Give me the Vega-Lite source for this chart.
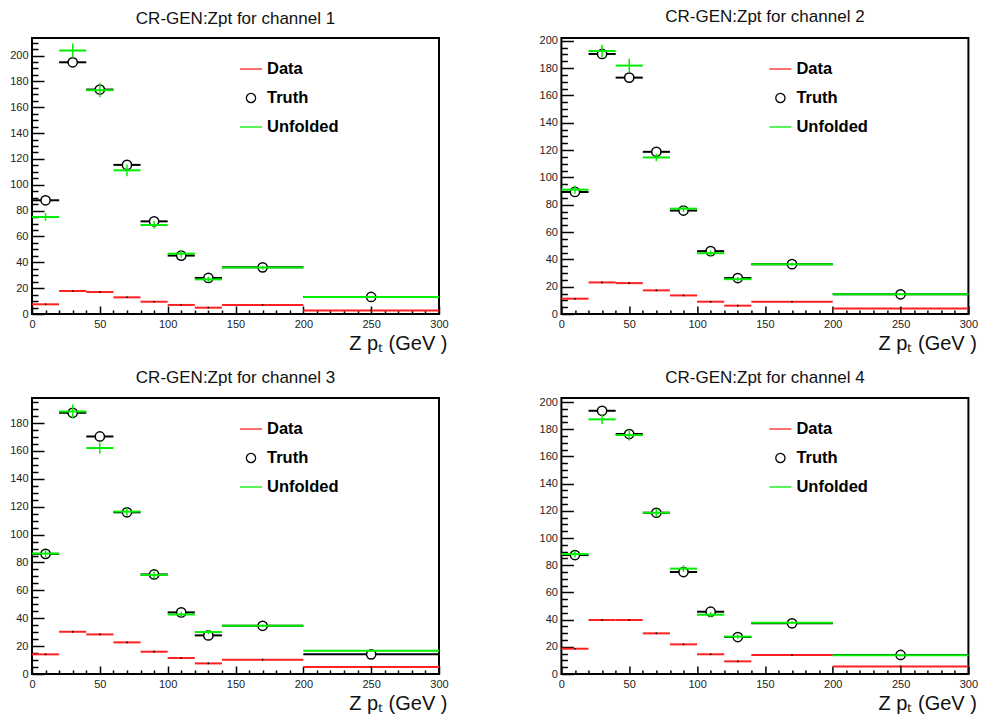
{
  "$schema": "https://vega.github.io/schema/vega-lite/v6.json",
  "padding": {"left": 8, "top": 6, "right": 0, "bottom": 0},
  "background": "white",
  "config": {
    "view": {"stroke": "black", "strokeWidth": 2},
    "font": "Liberation Sans",
    "legend": {"orient": "none", "legendX": 207, "legendY": 19, "title": null, "padding": 0, "labelFont": "Liberation Sans", "labelFontSize": 16.5, "labelFontWeight": "bold", "labelColor": "black", "symbolSize": 484, "symbolStrokeWidth": 1.3, "rowPadding": 8, "labelOffset": 4},
    "axisX": {"labelExpr": "datum.value % 50 === 0 ? datum.label : ''", "tickColor": "black", "tickWidth": 1.5, "domain": false, "grid": false, "labelFontSize": 11, "labelColor": "#222", "labelPadding": 12, "labelFlush": false, "labelOverlap": false, "titleFontSize": 20, "titleFontWeight": "normal", "titleColor": "#111", "titleAnchor": "end", "titleAlign": "right", "titleBaseline": "alphabetic", "titleX": 415, "titleY": 35},
    "axisY": {"labelExpr": "datum.value % 20 === 0 ? datum.label : ''", "tickColor": "black", "tickWidth": 1.5, "domain": false, "grid": false, "labelFontSize": 11, "labelColor": "#222", "labelPadding": 16, "labelOverlap": false},
    "title": {"fontSize": 17, "fontWeight": "normal", "font": "Liberation Sans", "color": "#111", "anchor": "middle", "frame": "group", "baseline": "alphabetic", "offset": 9}
  },
  "data": {"values": [
    {"ch":1,"s":"Data","lo":0,"hi":20,"x":10,"y":7.5,"e":0.6},
    {"ch":1,"s":"Data","lo":20,"hi":40,"x":30,"y":17.8,"e":0.6},
    {"ch":1,"s":"Data","lo":40,"hi":60,"x":50,"y":17.0,"e":0.6},
    {"ch":1,"s":"Data","lo":60,"hi":80,"x":70,"y":12.9,"e":0.6},
    {"ch":1,"s":"Data","lo":80,"hi":100,"x":90,"y":9.5,"e":0.6},
    {"ch":1,"s":"Data","lo":100,"hi":120,"x":110,"y":7.0,"e":0.6},
    {"ch":1,"s":"Data","lo":120,"hi":140,"x":130,"y":4.9,"e":0.6},
    {"ch":1,"s":"Data","lo":140,"hi":200,"x":170,"y":7.0,"e":0.6},
    {"ch":1,"s":"Data","lo":200,"hi":300,"x":250,"y":2.8,"e":0.6},
    {"ch":1,"s":"Truth","lo":0,"hi":20,"x":10,"y":88.0,"e":0},
    {"ch":1,"s":"Truth","lo":20,"hi":40,"x":30,"y":194.8,"e":0},
    {"ch":1,"s":"Truth","lo":40,"hi":60,"x":50,"y":173.7,"e":0},
    {"ch":1,"s":"Truth","lo":60,"hi":80,"x":70,"y":115.4,"e":0},
    {"ch":1,"s":"Truth","lo":80,"hi":100,"x":90,"y":71.7,"e":0},
    {"ch":1,"s":"Truth","lo":100,"hi":120,"x":110,"y":45.2,"e":0},
    {"ch":1,"s":"Truth","lo":120,"hi":140,"x":130,"y":27.9,"e":0},
    {"ch":1,"s":"Truth","lo":140,"hi":200,"x":170,"y":36.1,"e":0},
    {"ch":1,"s":"Truth","lo":200,"hi":300,"x":250,"y":13.2,"e":0},
    {"ch":1,"s":"Unfolded","lo":0,"hi":20,"x":10,"y":75.1,"e":3},
    {"ch":1,"s":"Unfolded","lo":20,"hi":40,"x":30,"y":203.9,"e":5.5},
    {"ch":1,"s":"Unfolded","lo":40,"hi":60,"x":50,"y":173.2,"e":5.5},
    {"ch":1,"s":"Unfolded","lo":60,"hi":80,"x":70,"y":111.2,"e":4.5},
    {"ch":1,"s":"Unfolded","lo":80,"hi":100,"x":90,"y":68.9,"e":3},
    {"ch":1,"s":"Unfolded","lo":100,"hi":120,"x":110,"y":46.7,"e":3},
    {"ch":1,"s":"Unfolded","lo":120,"hi":140,"x":130,"y":26.8,"e":2},
    {"ch":1,"s":"Unfolded","lo":140,"hi":200,"x":170,"y":35.9,"e":1.5},
    {"ch":1,"s":"Unfolded","lo":200,"hi":300,"x":250,"y":13.2,"e":0.8},
    {"ch":2,"s":"Data","lo":0,"hi":20,"x":10,"y":11.2,"e":0.6},
    {"ch":2,"s":"Data","lo":20,"hi":40,"x":30,"y":23.1,"e":0.6},
    {"ch":2,"s":"Data","lo":40,"hi":60,"x":50,"y":22.6,"e":0.6},
    {"ch":2,"s":"Data","lo":60,"hi":80,"x":70,"y":17.3,"e":0.6},
    {"ch":2,"s":"Data","lo":80,"hi":100,"x":90,"y":13.6,"e":0.6},
    {"ch":2,"s":"Data","lo":100,"hi":120,"x":110,"y":9.0,"e":0.6},
    {"ch":2,"s":"Data","lo":120,"hi":140,"x":130,"y":6.1,"e":0.6},
    {"ch":2,"s":"Data","lo":140,"hi":200,"x":170,"y":9.0,"e":0.6},
    {"ch":2,"s":"Data","lo":200,"hi":300,"x":250,"y":4.1,"e":0.6},
    {"ch":2,"s":"Truth","lo":0,"hi":20,"x":10,"y":89.3,"e":0},
    {"ch":2,"s":"Truth","lo":20,"hi":40,"x":30,"y":190.3,"e":0},
    {"ch":2,"s":"Truth","lo":40,"hi":60,"x":50,"y":173.0,"e":0},
    {"ch":2,"s":"Truth","lo":60,"hi":80,"x":70,"y":118.7,"e":0},
    {"ch":2,"s":"Truth","lo":80,"hi":100,"x":90,"y":75.7,"e":0},
    {"ch":2,"s":"Truth","lo":100,"hi":120,"x":110,"y":46.0,"e":0},
    {"ch":2,"s":"Truth","lo":120,"hi":140,"x":130,"y":26.3,"e":0},
    {"ch":2,"s":"Truth","lo":140,"hi":200,"x":170,"y":36.5,"e":0},
    {"ch":2,"s":"Truth","lo":200,"hi":300,"x":250,"y":14.4,"e":0},
    {"ch":2,"s":"Unfolded","lo":0,"hi":20,"x":10,"y":91.0,"e":3},
    {"ch":2,"s":"Unfolded","lo":20,"hi":40,"x":30,"y":192.5,"e":4.5},
    {"ch":2,"s":"Unfolded","lo":40,"hi":60,"x":50,"y":181.8,"e":5},
    {"ch":2,"s":"Unfolded","lo":60,"hi":80,"x":70,"y":114.6,"e":2.7},
    {"ch":2,"s":"Unfolded","lo":80,"hi":100,"x":90,"y":77.1,"e":2.5},
    {"ch":2,"s":"Unfolded","lo":100,"hi":120,"x":110,"y":44.5,"e":2},
    {"ch":2,"s":"Unfolded","lo":120,"hi":140,"x":130,"y":25.5,"e":1.5},
    {"ch":2,"s":"Unfolded","lo":140,"hi":200,"x":170,"y":36.5,"e":1.2},
    {"ch":2,"s":"Unfolded","lo":200,"hi":300,"x":250,"y":14.4,"e":0.7},
    {"ch":3,"s":"Data","lo":0,"hi":20,"x":10,"y":14.1,"e":0.6},
    {"ch":3,"s":"Data","lo":20,"hi":40,"x":30,"y":30.3,"e":0.6},
    {"ch":3,"s":"Data","lo":40,"hi":60,"x":50,"y":28.4,"e":0.6},
    {"ch":3,"s":"Data","lo":60,"hi":80,"x":70,"y":22.7,"e":0.6},
    {"ch":3,"s":"Data","lo":80,"hi":100,"x":90,"y":16.0,"e":0.6},
    {"ch":3,"s":"Data","lo":100,"hi":120,"x":110,"y":11.5,"e":0.6},
    {"ch":3,"s":"Data","lo":120,"hi":140,"x":130,"y":7.6,"e":0.6},
    {"ch":3,"s":"Data","lo":140,"hi":200,"x":170,"y":10.3,"e":0.6},
    {"ch":3,"s":"Data","lo":200,"hi":300,"x":250,"y":5.0,"e":0.6},
    {"ch":3,"s":"Truth","lo":0,"hi":20,"x":10,"y":86.2,"e":0},
    {"ch":3,"s":"Truth","lo":20,"hi":40,"x":30,"y":187.4,"e":0},
    {"ch":3,"s":"Truth","lo":40,"hi":60,"x":50,"y":170.4,"e":0},
    {"ch":3,"s":"Truth","lo":60,"hi":80,"x":70,"y":116.0,"e":0},
    {"ch":3,"s":"Truth","lo":80,"hi":100,"x":90,"y":71.4,"e":0},
    {"ch":3,"s":"Truth","lo":100,"hi":120,"x":110,"y":44.2,"e":0},
    {"ch":3,"s":"Truth","lo":120,"hi":140,"x":130,"y":27.7,"e":0},
    {"ch":3,"s":"Truth","lo":140,"hi":200,"x":170,"y":34.6,"e":0},
    {"ch":3,"s":"Truth","lo":200,"hi":300,"x":250,"y":14.1,"e":0},
    {"ch":3,"s":"Unfolded","lo":0,"hi":20,"x":10,"y":86.4,"e":2.5},
    {"ch":3,"s":"Unfolded","lo":20,"hi":40,"x":30,"y":188.3,"e":5},
    {"ch":3,"s":"Unfolded","lo":40,"hi":60,"x":50,"y":162.1,"e":4},
    {"ch":3,"s":"Unfolded","lo":60,"hi":80,"x":70,"y":116.5,"e":3},
    {"ch":3,"s":"Unfolded","lo":80,"hi":100,"x":90,"y":71.1,"e":2.5},
    {"ch":3,"s":"Unfolded","lo":100,"hi":120,"x":110,"y":42.7,"e":2},
    {"ch":3,"s":"Unfolded","lo":120,"hi":140,"x":130,"y":30.1,"e":1.5},
    {"ch":3,"s":"Unfolded","lo":140,"hi":200,"x":170,"y":34.6,"e":1},
    {"ch":3,"s":"Unfolded","lo":200,"hi":300,"x":250,"y":16.7,"e":0.8},
    {"ch":4,"s":"Data","lo":0,"hi":20,"x":10,"y":18.6,"e":0.6},
    {"ch":4,"s":"Data","lo":20,"hi":40,"x":30,"y":39.7,"e":0.6},
    {"ch":4,"s":"Data","lo":40,"hi":60,"x":50,"y":39.7,"e":0.6},
    {"ch":4,"s":"Data","lo":60,"hi":80,"x":70,"y":29.9,"e":0.6},
    {"ch":4,"s":"Data","lo":80,"hi":100,"x":90,"y":21.8,"e":0.6},
    {"ch":4,"s":"Data","lo":100,"hi":120,"x":110,"y":14.5,"e":0.6},
    {"ch":4,"s":"Data","lo":120,"hi":140,"x":130,"y":9.3,"e":0.6},
    {"ch":4,"s":"Data","lo":140,"hi":200,"x":170,"y":14.0,"e":0.6},
    {"ch":4,"s":"Data","lo":200,"hi":300,"x":250,"y":5.6,"e":0.6},
    {"ch":4,"s":"Truth","lo":0,"hi":20,"x":10,"y":87.5,"e":0},
    {"ch":4,"s":"Truth","lo":20,"hi":40,"x":30,"y":193.6,"e":0},
    {"ch":4,"s":"Truth","lo":40,"hi":60,"x":50,"y":176.5,"e":0},
    {"ch":4,"s":"Truth","lo":60,"hi":80,"x":70,"y":118.6,"e":0},
    {"ch":4,"s":"Truth","lo":80,"hi":100,"x":90,"y":75.0,"e":0},
    {"ch":4,"s":"Truth","lo":100,"hi":120,"x":110,"y":45.8,"e":0},
    {"ch":4,"s":"Truth","lo":120,"hi":140,"x":130,"y":27.2,"e":0},
    {"ch":4,"s":"Truth","lo":140,"hi":200,"x":170,"y":37.3,"e":0},
    {"ch":4,"s":"Truth","lo":200,"hi":300,"x":250,"y":14.0,"e":0},
    {"ch":4,"s":"Unfolded","lo":0,"hi":20,"x":10,"y":88.2,"e":2.5},
    {"ch":4,"s":"Unfolded","lo":20,"hi":40,"x":30,"y":187.3,"e":3.5},
    {"ch":4,"s":"Unfolded","lo":40,"hi":60,"x":50,"y":175.7,"e":4},
    {"ch":4,"s":"Unfolded","lo":60,"hi":80,"x":70,"y":118.6,"e":3},
    {"ch":4,"s":"Unfolded","lo":80,"hi":100,"x":90,"y":77.5,"e":2.5},
    {"ch":4,"s":"Unfolded","lo":100,"hi":120,"x":110,"y":43.6,"e":2},
    {"ch":4,"s":"Unfolded","lo":120,"hi":140,"x":130,"y":27.5,"e":1.5},
    {"ch":4,"s":"Unfolded","lo":140,"hi":200,"x":170,"y":37.7,"e":1},
    {"ch":4,"s":"Unfolded","lo":200,"hi":300,"x":250,"y":13.7,"e":0.8}
  ]},
  "columns": 2,
  "spacing": {"row": 84, "column": 122.4},
  "bounds": "flush",
  "resolve": {"scale": {"color": "independent", "shape": "independent"}, "legend": {"color": "independent", "shape": "independent"}},
  "concat": [
    {
      "width": 407, "height": 276,
      "title": {"text": "CR-GEN:Zpt  for channel 1"},
      "transform": [{"filter": "datum.ch === 1"}],
      "encoding": {
        "x": {"field": "x", "type": "quantitative", "title": "Z pₜ (GeV )", "scale": {"domain": [0, 300], "nice": false, "zero": false}, "axis": {"title": "Z pₜ (GeV )", "values": [0,10,20,30,40,50,60,70,80,90,100,110,120,130,140,150,160,170,180,190,200,210,220,230,240,250,260,270,280,290,300], "tickSize": {"condition": {"test": "datum.value % 50 === 0", "value": -8}, "value": -4}}},
        "y": {"field": "y", "type": "quantitative", "title": null, "scale": {"domain": [0, 213.6], "nice": false}, "axis": {"title": null, "values": [0,5,10,15,20,25,30,35,40,45,50,55,60,65,70,75,80,85,90,95,100,105,110,115,120,125,130,135,140,145,150,155,160,165,170,175,180,185,190,195,200,205,210], "tickSize": {"condition": {"test": "datum.value % 20 === 0", "value": -12}, "value": -6}}}
      },
      "layer": [
        {"transform": [{"filter": "datum.s === 'Data'"}], "mark": {"type": "rule", "strokeWidth": 2},
         "encoding": {"x": {"field": "lo", "type": "quantitative", "title": "Z pₜ (GeV )"}, "x2": {"field": "hi"},
           "color": {"field": "s", "type": "nominal", "scale": {"domain": ["Data", "Truth", "Unfolded"], "range": ["#ff2020", "#000000", "#00ee00"]}}}},
        {"transform": [{"filter": "datum.s === 'Data'"}], "mark": {"type": "errorbar", "color": "black", "thickness": 1.5},
         "encoding": {"yError": {"field": "e"}}},
        {"transform": [{"filter": "datum.s === 'Truth'"}], "mark": {"type": "rule", "strokeWidth": 2},
         "encoding": {"x": {"field": "lo", "type": "quantitative", "title": "Z pₜ (GeV )"}, "x2": {"field": "hi"},
           "color": {"field": "s", "type": "nominal", "scale": {"domain": ["Data", "Truth", "Unfolded"], "range": ["#ff2020", "#000000", "#00ee00"]}}}},
        {"transform": [{"filter": "datum.s === 'Truth'"}], "mark": {"type": "point", "filled": false, "fill": "white", "fillOpacity": 1, "opacity": 1, "strokeWidth": 1.5, "size": 484},
         "encoding": {
           "color": {"field": "s", "type": "nominal", "scale": {"domain": ["Data", "Truth", "Unfolded"], "range": ["#ff2020", "#000000", "#00ee00"]}},
           "shape": {"field": "s", "type": "nominal", "scale": {"domain": ["Data", "Truth", "Unfolded"], "range": ["stroke", "M-0.42,0A0.42,0.42 0 1,0 0.42,0A0.42,0.42 0 1,0 -0.42,0Z", "stroke"]}}}},
        {"transform": [{"filter": "datum.s === 'Unfolded'"}], "mark": {"type": "rule", "strokeWidth": 2},
         "encoding": {"x": {"field": "lo", "type": "quantitative", "title": "Z pₜ (GeV )"}, "x2": {"field": "hi"},
           "color": {"field": "s", "type": "nominal", "scale": {"domain": ["Data", "Truth", "Unfolded"], "range": ["#ff2020", "#000000", "#00ee00"]}}}},
        {"transform": [{"filter": "datum.s === 'Unfolded'"}], "mark": {"type": "errorbar", "color": "#00ee00", "thickness": 1.5},
         "encoding": {"yError": {"field": "e"}}}
      ]
    },
    {
      "width": 407, "height": 276,
      "title": {"text": "CR-GEN:Zpt  for channel 2"},
      "transform": [{"filter": "datum.ch === 2"}],
      "encoding": {
        "x": {"field": "x", "type": "quantitative", "title": "Z pₜ (GeV )", "scale": {"domain": [0, 300], "nice": false, "zero": false}, "axis": {"title": "Z pₜ (GeV )", "values": [0,10,20,30,40,50,60,70,80,90,100,110,120,130,140,150,160,170,180,190,200,210,220,230,240,250,260,270,280,290,300], "tickSize": {"condition": {"test": "datum.value % 50 === 0", "value": -8}, "value": -4}}},
        "y": {"field": "y", "type": "quantitative", "title": null, "scale": {"domain": [0, 202], "nice": false}, "axis": {"title": null, "values": [0,5,10,15,20,25,30,35,40,45,50,55,60,65,70,75,80,85,90,95,100,105,110,115,120,125,130,135,140,145,150,155,160,165,170,175,180,185,190,195,200], "tickSize": {"condition": {"test": "datum.value % 20 === 0", "value": -12}, "value": -6}}}
      },
      "layer": [
        {"transform": [{"filter": "datum.s === 'Data'"}], "mark": {"type": "rule", "strokeWidth": 2},
         "encoding": {"x": {"field": "lo", "type": "quantitative", "title": "Z pₜ (GeV )"}, "x2": {"field": "hi"},
           "color": {"field": "s", "type": "nominal", "scale": {"domain": ["Data", "Truth", "Unfolded"], "range": ["#ff2020", "#000000", "#00ee00"]}}}},
        {"transform": [{"filter": "datum.s === 'Data'"}], "mark": {"type": "errorbar", "color": "black", "thickness": 1.5},
         "encoding": {"yError": {"field": "e"}}},
        {"transform": [{"filter": "datum.s === 'Truth'"}], "mark": {"type": "rule", "strokeWidth": 2},
         "encoding": {"x": {"field": "lo", "type": "quantitative", "title": "Z pₜ (GeV )"}, "x2": {"field": "hi"},
           "color": {"field": "s", "type": "nominal", "scale": {"domain": ["Data", "Truth", "Unfolded"], "range": ["#ff2020", "#000000", "#00ee00"]}}}},
        {"transform": [{"filter": "datum.s === 'Truth'"}], "mark": {"type": "point", "filled": false, "fill": "white", "fillOpacity": 1, "opacity": 1, "strokeWidth": 1.5, "size": 484},
         "encoding": {
           "color": {"field": "s", "type": "nominal", "scale": {"domain": ["Data", "Truth", "Unfolded"], "range": ["#ff2020", "#000000", "#00ee00"]}},
           "shape": {"field": "s", "type": "nominal", "scale": {"domain": ["Data", "Truth", "Unfolded"], "range": ["stroke", "M-0.42,0A0.42,0.42 0 1,0 0.42,0A0.42,0.42 0 1,0 -0.42,0Z", "stroke"]}}}},
        {"transform": [{"filter": "datum.s === 'Unfolded'"}], "mark": {"type": "rule", "strokeWidth": 2},
         "encoding": {"x": {"field": "lo", "type": "quantitative", "title": "Z pₜ (GeV )"}, "x2": {"field": "hi"},
           "color": {"field": "s", "type": "nominal", "scale": {"domain": ["Data", "Truth", "Unfolded"], "range": ["#ff2020", "#000000", "#00ee00"]}}}},
        {"transform": [{"filter": "datum.s === 'Unfolded'"}], "mark": {"type": "errorbar", "color": "#00ee00", "thickness": 1.5},
         "encoding": {"yError": {"field": "e"}}}
      ]
    },
    {
      "width": 407, "height": 276,
      "title": {"text": "CR-GEN:Zpt  for channel 3"},
      "transform": [{"filter": "datum.ch === 3"}],
      "encoding": {
        "x": {"field": "x", "type": "quantitative", "title": "Z pₜ (GeV )", "scale": {"domain": [0, 300], "nice": false, "zero": false}, "axis": {"title": "Z pₜ (GeV )", "values": [0,10,20,30,40,50,60,70,80,90,100,110,120,130,140,150,160,170,180,190,200,210,220,230,240,250,260,270,280,290,300], "tickSize": {"condition": {"test": "datum.value % 50 === 0", "value": -8}, "value": -4}}},
        "y": {"field": "y", "type": "quantitative", "title": null, "scale": {"domain": [0, 198], "nice": false}, "axis": {"title": null, "values": [0,5,10,15,20,25,30,35,40,45,50,55,60,65,70,75,80,85,90,95,100,105,110,115,120,125,130,135,140,145,150,155,160,165,170,175,180,185,190,195], "tickSize": {"condition": {"test": "datum.value % 20 === 0", "value": -12}, "value": -6}}}
      },
      "layer": [
        {"transform": [{"filter": "datum.s === 'Data'"}], "mark": {"type": "rule", "strokeWidth": 2},
         "encoding": {"x": {"field": "lo", "type": "quantitative", "title": "Z pₜ (GeV )"}, "x2": {"field": "hi"},
           "color": {"field": "s", "type": "nominal", "scale": {"domain": ["Data", "Truth", "Unfolded"], "range": ["#ff2020", "#000000", "#00ee00"]}}}},
        {"transform": [{"filter": "datum.s === 'Data'"}], "mark": {"type": "errorbar", "color": "black", "thickness": 1.5},
         "encoding": {"yError": {"field": "e"}}},
        {"transform": [{"filter": "datum.s === 'Truth'"}], "mark": {"type": "rule", "strokeWidth": 2},
         "encoding": {"x": {"field": "lo", "type": "quantitative", "title": "Z pₜ (GeV )"}, "x2": {"field": "hi"},
           "color": {"field": "s", "type": "nominal", "scale": {"domain": ["Data", "Truth", "Unfolded"], "range": ["#ff2020", "#000000", "#00ee00"]}}}},
        {"transform": [{"filter": "datum.s === 'Truth'"}], "mark": {"type": "point", "filled": false, "fill": "white", "fillOpacity": 1, "opacity": 1, "strokeWidth": 1.5, "size": 484},
         "encoding": {
           "color": {"field": "s", "type": "nominal", "scale": {"domain": ["Data", "Truth", "Unfolded"], "range": ["#ff2020", "#000000", "#00ee00"]}},
           "shape": {"field": "s", "type": "nominal", "scale": {"domain": ["Data", "Truth", "Unfolded"], "range": ["stroke", "M-0.42,0A0.42,0.42 0 1,0 0.42,0A0.42,0.42 0 1,0 -0.42,0Z", "stroke"]}}}},
        {"transform": [{"filter": "datum.s === 'Unfolded'"}], "mark": {"type": "rule", "strokeWidth": 2},
         "encoding": {"x": {"field": "lo", "type": "quantitative", "title": "Z pₜ (GeV )"}, "x2": {"field": "hi"},
           "color": {"field": "s", "type": "nominal", "scale": {"domain": ["Data", "Truth", "Unfolded"], "range": ["#ff2020", "#000000", "#00ee00"]}}}},
        {"transform": [{"filter": "datum.s === 'Unfolded'"}], "mark": {"type": "errorbar", "color": "#00ee00", "thickness": 1.5},
         "encoding": {"yError": {"field": "e"}}}
      ]
    },
    {
      "width": 407, "height": 276,
      "title": {"text": "CR-GEN:Zpt  for channel 4"},
      "transform": [{"filter": "datum.ch === 4"}],
      "encoding": {
        "x": {"field": "x", "type": "quantitative", "title": "Z pₜ (GeV )", "scale": {"domain": [0, 300], "nice": false, "zero": false}, "axis": {"title": "Z pₜ (GeV )", "values": [0,10,20,30,40,50,60,70,80,90,100,110,120,130,140,150,160,170,180,190,200,210,220,230,240,250,260,270,280,290,300], "tickSize": {"condition": {"test": "datum.value % 50 === 0", "value": -8}, "value": -4}}},
        "y": {"field": "y", "type": "quantitative", "title": null, "scale": {"domain": [0, 203], "nice": false}, "axis": {"title": null, "values": [0,5,10,15,20,25,30,35,40,45,50,55,60,65,70,75,80,85,90,95,100,105,110,115,120,125,130,135,140,145,150,155,160,165,170,175,180,185,190,195,200], "tickSize": {"condition": {"test": "datum.value % 20 === 0", "value": -12}, "value": -6}}}
      },
      "layer": [
        {"transform": [{"filter": "datum.s === 'Data'"}], "mark": {"type": "rule", "strokeWidth": 2},
         "encoding": {"x": {"field": "lo", "type": "quantitative", "title": "Z pₜ (GeV )"}, "x2": {"field": "hi"},
           "color": {"field": "s", "type": "nominal", "scale": {"domain": ["Data", "Truth", "Unfolded"], "range": ["#ff2020", "#000000", "#00ee00"]}}}},
        {"transform": [{"filter": "datum.s === 'Data'"}], "mark": {"type": "errorbar", "color": "black", "thickness": 1.5},
         "encoding": {"yError": {"field": "e"}}},
        {"transform": [{"filter": "datum.s === 'Truth'"}], "mark": {"type": "rule", "strokeWidth": 2},
         "encoding": {"x": {"field": "lo", "type": "quantitative", "title": "Z pₜ (GeV )"}, "x2": {"field": "hi"},
           "color": {"field": "s", "type": "nominal", "scale": {"domain": ["Data", "Truth", "Unfolded"], "range": ["#ff2020", "#000000", "#00ee00"]}}}},
        {"transform": [{"filter": "datum.s === 'Truth'"}], "mark": {"type": "point", "filled": false, "fill": "white", "fillOpacity": 1, "opacity": 1, "strokeWidth": 1.5, "size": 484},
         "encoding": {
           "color": {"field": "s", "type": "nominal", "scale": {"domain": ["Data", "Truth", "Unfolded"], "range": ["#ff2020", "#000000", "#00ee00"]}},
           "shape": {"field": "s", "type": "nominal", "scale": {"domain": ["Data", "Truth", "Unfolded"], "range": ["stroke", "M-0.42,0A0.42,0.42 0 1,0 0.42,0A0.42,0.42 0 1,0 -0.42,0Z", "stroke"]}}}},
        {"transform": [{"filter": "datum.s === 'Unfolded'"}], "mark": {"type": "rule", "strokeWidth": 2},
         "encoding": {"x": {"field": "lo", "type": "quantitative", "title": "Z pₜ (GeV )"}, "x2": {"field": "hi"},
           "color": {"field": "s", "type": "nominal", "scale": {"domain": ["Data", "Truth", "Unfolded"], "range": ["#ff2020", "#000000", "#00ee00"]}}}},
        {"transform": [{"filter": "datum.s === 'Unfolded'"}], "mark": {"type": "errorbar", "color": "#00ee00", "thickness": 1.5},
         "encoding": {"yError": {"field": "e"}}}
      ]
    }
  ]
}
